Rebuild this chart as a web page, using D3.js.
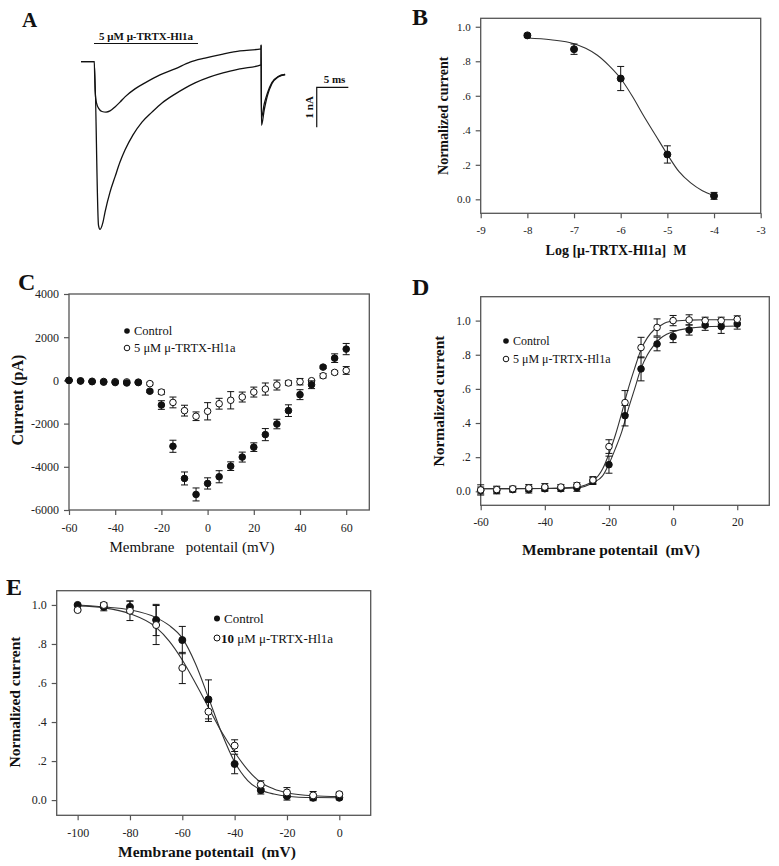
<!DOCTYPE html>
<html><head><meta charset="utf-8">
<script src="https://cdn.jsdelivr.net/npm/d3@7"></script>
<style>
body{margin:0;background:#fff}
svg{display:block}
text{font-family:"Liberation Serif","Times New Roman",serif;white-space:pre}
</style>
</head><body>
<svg id="c" width="779" height="866"></svg>
<script>
// ---------- Panel A: current traces (time ms, current nA) ----------
const traceControlT = [0, 2.1, 2.77, 3.01, 3.48, 3.80, 4.59, 5.38, 6.17, 6.96, 8.23, 9.65, 11.23, 12.82, 14.87, 16.46, 18.04, 20.41, 22.47, 25.16, 28.48, 28.5, 28.55, 29.0, 29.5, 30.2, 31.2, 32.3];
const traceControlI = [0, 0, -4.09, -4.19, -4.01, -3.76, -3.26, -2.88, -2.51, -2.21, -1.83, -1.51, -1.26, -1.03, -0.81, -0.66, -0.53, -0.38, -0.28, -0.18, -0.08, 0.42, -1.59, -1.2, -0.85, -0.55, -0.38, -0.32];
const traceToxinT = [0, 2.1, 2.22, 2.45, 2.85, 3.32, 3.96, 4.59, 5.38, 6.17, 6.96, 8.54, 10.13, 12.5, 14.87, 17.25, 19.62, 22.47, 25.16, 28.48, 28.5, 28.55, 29.0, 29.5, 30.2, 31.2, 32.3];
const traceToxinI = [0, 0, -0.71, -1.03, -1.18, -1.245, -1.26, -1.23, -1.13, -1.01, -0.88, -0.68, -0.53, -0.33, -0.18, -0.01, 0.09, 0.19, 0.27, 0.32, 0.42, -1.4, -1.05, -0.78, -0.52, -0.37, -0.32];
const scaleBarT = [37.3, 42.3];   // 5 ms
const scaleBarI = [-0.64, -1.64]; // 1 nA
const barLabelA = "5 μM μ-TRTX-Hl1a";

// ---------- Panel B: dose response ----------
const logConc = [-8, -7, -6, -5, -4];
const normB = [0.95, 0.87, 0.70, 0.26, 0.02];
const errB = [0.01, 0.03, 0.07, 0.05, 0.02];
const fitBx = [-8, -7.5, -7, -6.75, -6.5, -6.25, -6, -5.75, -5.5, -5.25, -5, -4.75, -4.5, -4.25, -4];
const fitBy = [0.935, 0.925, 0.902, 0.875, 0.835, 0.775, 0.70, 0.597, 0.48, 0.37, 0.26, 0.16, 0.095, 0.05, 0.022];
const ticksBx = [-9, -8, -7, -6, -5, -4, -3];
const ticksBy = [0, 0.2, 0.4, 0.6, 0.8, 1.0];

// ---------- Panel C: I-V ----------
const voltC = [-60, -55, -50, -45, -40, -35, -30, -25, -20, -15, -10, -5, 0, 5, 10, 15, 20, 25, 30, 35, 40, 45, 50, 55, 60];
const ctrlC = [0, -30, -60, -80, -100, -120, -100, -500, -1140, -3050, -4540, -5280, -4770, -4460, -3970, -3550, -3090, -2510, -2020, -1400, -660, -200, 615, 1030, 1450];
const ctrlCerr = [20, 20, 20, 30, 30, 30, 30, 60, 200, 280, 300, 300, 260, 280, 200, 230, 200, 280, 220, 270, 230, 180, 60, 200, 260];
const toxC = [0, -20, -40, -50, -60, -70, -80, -150, -540, -1020, -1400, -1660, -1430, -1080, -920, -770, -540, -400, -215, -120, -60, -15, 215, 370, 460];
const toxCerr = [40, 40, 40, 40, 50, 50, 50, 60, 100, 250, 250, 200, 400, 250, 400, 230, 230, 280, 230, 100, 150, 60, 100, 80, 180];
const ticksCx = [-60, -40, -20, 0, 20, 40, 60];
const ticksCy = [-6000, -4000, -2000, 0, 2000, 4000];

// ---------- Panel D: activation ----------
const voltD = [-60, -55, -50, -45, -40, -35, -30, -25, -20, -15, -10, -5, 0, 5, 10, 15, 20];
const ctrlD = [0.005, 0.005, 0.01, 0.01, 0.015, 0.015, 0.02, 0.06, 0.156, 0.443, 0.717, 0.863, 0.906, 0.945, 0.973, 0.965, 0.98];
const ctrlDerr = [0.02, 0.02, 0.015, 0.02, 0.015, 0.015, 0.02, 0.02, 0.05, 0.06, 0.07, 0.04, 0.035, 0.03, 0.03, 0.04, 0.03];
const toxD = [0.008, 0.01, 0.015, 0.02, 0.025, 0.025, 0.035, 0.066, 0.262, 0.52, 0.842, 0.96, 1.0, 1.004, 1.0, 1.0, 1.008];
const toxDerr = [0.03, 0.02, 0.015, 0.02, 0.02, 0.015, 0.015, 0.02, 0.04, 0.07, 0.06, 0.05, 0.03, 0.03, 0.02, 0.02, 0.02];
const fitDx = [-60, -40, -30, -25, -22, -20, -18, -16, -14, -12, -10, -8, -6, -4, -2, 0, 5, 10, 20];
const fitDctrl = [0.015, 0.016, 0.02, 0.05, 0.09, 0.16, 0.25, 0.35, 0.48, 0.60, 0.72, 0.80, 0.855, 0.895, 0.92, 0.935, 0.955, 0.963, 0.968];
const fitDtox = [0.015, 0.016, 0.025, 0.06, 0.13, 0.22, 0.33, 0.46, 0.60, 0.72, 0.83, 0.90, 0.945, 0.97, 0.99, 0.997, 1.003, 1.005, 1.005];
const ticksDx = [-60, -40, -20, 0, 20];
const ticksDy = [0, 0.2, 0.4, 0.6, 0.8, 1.0];

// ---------- Panel E: inactivation ----------
const voltE = [-100, -90, -80, -70, -60, -50, -40, -30, -20, -10, 0];
const ctrlE = [1.0, 0.99, 0.99, 0.923, 0.82, 0.516, 0.185, 0.051, 0.02, 0.012, 0.012];
const ctrlEerr = [0.005, 0.02, 0.03, 0.08, 0.07, 0.10, 0.05, 0.02, 0.02, 0.015, 0.01];
const toxE = [0.974, 1.0, 0.97, 0.897, 0.677, 0.453, 0.279, 0.079, 0.039, 0.024, 0.03];
const toxEerr = [0.005, 0.01, 0.05, 0.10, 0.08, 0.05, 0.03, 0.02, 0.025, 0.02, 0.01];
const fitEx = [-100, -90, -80, -70, -65, -60, -55, -50, -45, -40, -35, -30, -25, -20, -10, 0];
const fitEctrl = [1.0, 0.99, 0.975, 0.935, 0.895, 0.83, 0.70, 0.525, 0.345, 0.195, 0.10, 0.052, 0.031, 0.02, 0.013, 0.012];
const fitEtox = [0.995, 0.985, 0.955, 0.885, 0.815, 0.718, 0.60, 0.475, 0.35, 0.245, 0.155, 0.09, 0.057, 0.038, 0.022, 0.018];
const ticksEx = [-100, -80, -60, -40, -20, 0];
const ticksEy = [0, 0.2, 0.4, 0.6, 0.8, 1.0];

const legendCtrl = "Control";
const legendTox5 = "5 μM μ-TRTX-Hl1a";

// ================= drawing =================
const svg = d3.select("#c");
const FRAME = "#555";

function normFmt(d) { const s = d.toFixed(1); return s === "0.0" || s === "1.0" ? s : s.replace(/^0\./, "."); }

function panel(o) {
  const g = svg.append("g");
  const x = d3.scaleLinear().domain(o.xdom).range([o.x0, o.x1]);
  const y = d3.scaleLinear().domain(o.ydom).range([o.y1, o.y0]);
  g.append("rect").attr("x", o.x0).attr("y", o.y0).attr("width", o.x1 - o.x0).attr("height", o.y1 - o.y0)
    .attr("fill", "none").attr("stroke", FRAME).attr("stroke-width", 1.3);
  const xa = g.append("g").attr("transform", `translate(0,${o.y1})`)
    .call(d3.axisBottom(x).tickValues(o.xticks).tickSize(5).tickSizeOuter(0).tickPadding(o.xpad || 6).tickFormat(d => String(d)));
  const ya = g.append("g").attr("transform", `translate(${o.x0},0)`)
    .call(d3.axisLeft(y).tickValues(o.yticks).tickSize(5).tickSizeOuter(0).tickPadding(o.ypad || 4).tickFormat(o.yfmt || (d => String(d))));
  [xa, ya].forEach(a => {
    a.select(".domain").remove();
    a.selectAll(".tick line").attr("stroke", FRAME).attr("stroke-width", 1.2);
    a.selectAll(".tick text").attr("fill", "#222").style("font-size", o.tickFs + "px");
  });
  return { g, x, y };
}

function curve(p, xs, ys) {
  p.g.append("path").attr("d", d3.line().x((d, i) => p.x(xs[i])).y((d, i) => p.y(ys[i])).curve(d3.curveMonotoneX)(xs))
    .attr("fill", "none").attr("stroke", "#333").attr("stroke-width", 1.1);
}

function points(p, xs, ys, es, filled, r, cap) {
  const gg = p.g.append("g");
  xs.forEach((xv, i) => {
    const cx = p.x(xv), cy = p.y(ys[i]);
    const yt = p.y(ys[i] + es[i]), yb = p.y(ys[i] - es[i]);
    gg.append("line").attr("x1", cx).attr("x2", cx).attr("y1", yt).attr("y2", yb).attr("stroke", "#111").attr("stroke-width", 1);
    [yt, yb].forEach(yy => gg.append("line").attr("x1", cx - cap).attr("x2", cx + cap).attr("y1", yy).attr("y2", yy).attr("stroke", "#111").attr("stroke-width", 1));
  });
  xs.forEach((xv, i) => {
    gg.append("circle").attr("cx", p.x(xv)).attr("cy", p.y(ys[i])).attr("r", r)
      .attr("fill", filled ? "#111" : "#fff").attr("stroke", "#111").attr("stroke-width", 1);
  });
}

function label(txt, x, y, fs, weight, rotate, anchor) {
  const t = svg.append("text").attr("x", x).attr("y", y).attr("font-size", fs).attr("font-weight", weight || "normal")
    .attr("text-anchor", anchor || "middle").attr("fill", "#111").text(txt);
  if (rotate) t.attr("transform", `rotate(-90,${x},${y})`);
  return t;
}

function legend(lx, ly1, ly2, fs, r, tox, toxBoldPrefix) {
  svg.append("circle").attr("cx", lx).attr("cy", ly1).attr("r", r).attr("fill", "#111");
  svg.append("circle").attr("cx", lx).attr("cy", ly2).attr("r", r).attr("fill", "#fff").attr("stroke", "#111").attr("stroke-width", 1);
  label(legendCtrl, lx + 7, ly1 + fs * 0.35, fs, "normal", false, "start");
  const t = svg.append("text").attr("x", lx + (toxBoldPrefix ? 4 : 7)).attr("y", ly2 + fs * 0.35).attr("font-size", fs).attr("fill", "#111");
  if (toxBoldPrefix) {
    t.append("tspan").attr("font-weight", "bold").text(toxBoldPrefix);
    t.append("tspan").text(tox);
  } else t.text(tox);
}

// ---- Panel letters ----
label("A", 22, 27, 21, "bold", false, "start");
label("B", 412, 25, 24, "bold", false, "start");
label("C", 18, 290, 24, "bold", false, "start");
label("D", 412, 295, 24, "bold", false, "start");
label("E", 6, 595, 24, "bold", false, "start");

// ---- Panel A ----
{
  const xA = d3.scaleLinear().domain([0, 5]).range([81, 112.6]);
  const yA = d3.scaleLinear().domain([0, -1]).range([61.7, 101.7]);
  const ln = (ts, is) => d3.line().x((d, i) => xA(ts[i])).y((d, i) => yA(is[i])).curve(d3.curveMonotoneX)(ts);
  svg.append("path").attr("d", ln(traceControlT, traceControlI)).attr("fill", "none").attr("stroke", "#111").attr("stroke-width", 1.3);
  svg.append("path").attr("d", ln(traceToxinT, traceToxinI)).attr("fill", "none").attr("stroke", "#111").attr("stroke-width", 1.3);
  // scale bar
  svg.append("path").attr("d", `M${xA(scaleBarT[1])},${yA(scaleBarI[0])}H${xA(scaleBarT[0])}V${yA(scaleBarI[1])}`)
    .attr("fill", "none").attr("stroke", "#111").attr("stroke-width", 1.2);
  label("5 ms", (xA(scaleBarT[0]) + xA(scaleBarT[1])) / 2 + 2, yA(scaleBarI[0]) - 4, 11, "bold");
  label("1 nA", xA(scaleBarT[0]) - 4, (yA(scaleBarI[0]) + yA(scaleBarI[1])) / 2, 11, "bold", true);
  // toxin application bar
  label(barLabelA, 146, 40, 11, "bold");
  svg.append("line").attr("x1", 94).attr("x2", 198).attr("y1", 43.5).attr("y2", 43.5).attr("stroke", "#111").attr("stroke-width", 1.2);
}

// ---- Panel B ----
{
  const p = panel({ x0: 480.7, x1: 760.7, y0: 18.3, y1: 213.3, xdom: [-9, -3], ydom: [-0.081, 1.049],
    xticks: ticksBx, yticks: ticksBy, yfmt: normFmt, tickFs: 11, xpad: 8, ypad: 5 });
  curve(p, fitBx, fitBy);
  points(p, logConc, normB, errB, true, 3.5, 3.5);
  label("Normalized current", 448, 115.8, 14, "bold", true);
  label("Log [μ-TRTX-Hl1a]  M", 616, 255, 14, "bold");
}

// ---- Panel C ----
{
  const p = panel({ x0: 69, x1: 369.3, y0: 294, y1: 510, xdom: [-60, 70], ydom: [-6000, 4000],
    xticks: ticksCx, yticks: ticksCy, tickFs: 12, xpad: 8, ypad: 5 });
  points(p, voltC, toxC, toxCerr, false, 3.3, 3.5);
  points(p, voltC, ctrlC, ctrlCerr, true, 3.3, 3.5);
  legend(127, 331, 348, 12.5, 2.8, legendTox5);
  label("Current (pA)", 23, 400, 16, "bold", true);
  label("Membrane   potentail (mV)", 192, 552, 15, "normal");
}

// ---- Panel D ----
{
  const p = panel({ x0: 480.7, x1: 769.3, y0: 296.7, y1: 505.3, xdom: [-60, 30], ydom: [-0.082, 1.14],
    xticks: ticksDx, yticks: ticksDy, yfmt: normFmt, tickFs: 11.5, xpad: 8, ypad: 5 });
  curve(p, fitDx, fitDctrl);
  curve(p, fitDx, fitDtox);
  points(p, voltD, ctrlD, ctrlDerr, true, 3.3, 3.5);
  points(p, voltD, toxD, toxDerr, false, 3.3, 3.5);
  legend(506, 341, 359, 12, 2.8, legendTox5);
  label("Normalized current", 444, 401, 15.5, "bold", true);
  label("Membrane potentail  (mV)", 611, 555, 15.5, "bold");
}

// ---- Panel E ----
{
  const p = panel({ x0: 56.7, x1: 370.7, y0: 590.7, y1: 815.3, xdom: [-108, 12], ydom: [-0.078, 1.073],
    xticks: ticksEx, yticks: ticksEy, yfmt: normFmt, tickFs: 12, xpad: 8, ypad: 5 });
  curve(p, fitEx, fitEctrl);
  curve(p, fitEx, fitEtox);
  points(p, voltE, ctrlE, ctrlEerr, true, 3.5, 3.5);
  points(p, voltE, toxE, toxEerr, false, 3.5, 3.5);
  legend(217, 618.5, 638, 13, 3, " μM μ-TRTX-Hl1a", "10");
  label("Normalized current", 20, 702, 15.5, "bold", true);
  label("Membrane potentail  (mV)", 207, 857, 15.5, "bold");
}
</script>
</body></html>
